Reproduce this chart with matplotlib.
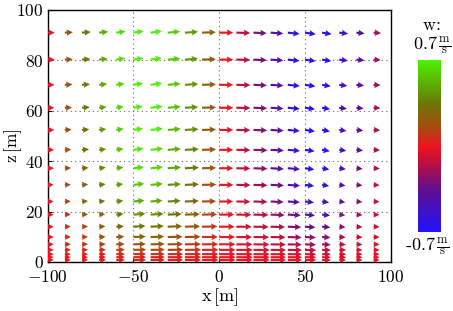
import numpy as np
import matplotlib
matplotlib.use("Agg")
import matplotlib.pyplot as plt
from matplotlib.colors import LinearSegmentedColormap, Normalize
from matplotlib.ticker import FuncFormatter

plt.rcParams['mathtext.fontset'] = 'cm'
plt.rcParams['font.family'] = ['DejaVu Serif']

# ---- data ----
x_pos = [-100, -90, -80, -70, -60, -50, -40, -30, -20, -10,
         0, 10, 20, 30, 40, 50, 60, 70, 80, 90]
z_pos = [0.8, 1.9, 3.1, 4.8, 7.0, 9.9, 14.0, 18.8, 24.0, 30.6,
         37.2, 44.5, 52.4, 61.2, 70.3, 80.3, 91.0]

# horizontal velocity u [m/s], one row per z level (bottom -> top)
u_rows = [
    [3.0, 3.0, 3.0, 3.4, 4.3, 6.3, 7.1, 7.7, 8.1, 8.2, 8.2, 8.2, 8.1, 7.7, 7.1, 5.6, 4.4, 3.4, 3.0, 3.0],
    [3.0, 3.0, 3.0, 3.4, 4.3, 6.3, 7.1, 7.7, 8.1, 8.2, 8.2, 8.2, 8.1, 7.7, 7.1, 5.6, 4.4, 3.4, 3.0, 3.0],
    [3.0, 3.0, 3.0, 3.4, 4.3, 6.3, 7.1, 7.7, 8.1, 8.2, 8.2, 8.2, 8.1, 7.7, 7.1, 5.6, 4.4, 3.4, 3.0, 3.0],
    [3.0, 3.0, 3.0, 3.4, 4.3, 6.3, 7.1, 7.7, 8.1, 8.2, 8.2, 8.2, 8.1, 7.7, 7.1, 5.6, 4.4, 3.4, 3.0, 3.0],
    [3.0, 3.0, 3.0, 3.3, 4.2, 6.2, 7.0, 7.6, 8.0, 8.1, 8.1, 8.1, 8.0, 7.6, 7.0, 5.5, 4.3, 3.3, 3.0, 3.0],
    [3.0, 3.0, 3.0, 3.2, 4.0, 6.1, 6.8, 7.4, 7.8, 7.9, 7.9, 7.9, 7.8, 7.4, 6.9, 5.4, 4.2, 3.2, 3.0, 3.0],
    [3.0, 3.0, 3.0, 3.1, 3.8, 6.0, 6.6, 7.2, 7.6, 7.7, 7.7, 7.7, 7.6, 7.2, 6.7, 5.2, 4.1, 3.1, 3.0, 3.0],
    [3.0, 3.0, 3.0, 3.0, 3.6, 6.0, 6.5, 7.0, 7.5, 7.5, 7.5, 7.5, 7.5, 7.0, 6.5, 5.0, 4.0, 3.0, 3.0, 3.0],
    [3.0, 3.0, 3.0, 3.0, 3.5, 5.5, 6.0, 6.5, 7.0, 7.0, 7.0, 7.0, 7.0, 6.5, 6.0, 4.5, 3.5, 3.0, 3.0, 3.0],
    [3.0, 3.0, 3.1, 3.2, 3.5, 5.4, 6.1, 6.6, 7.0, 7.1, 7.1, 7.1, 7.0, 6.6, 6.1, 4.6, 3.5, 3.1, 3.0, 3.0],
    [3.1, 3.1, 3.3, 3.3, 3.5, 5.2, 6.2, 6.6, 7.0, 7.0, 7.0, 7.0, 7.0, 6.6, 6.1, 4.7, 3.6, 3.3, 3.1, 3.1],
    [3.2, 3.2, 3.5, 3.5, 3.6, 5.0, 6.3, 6.6, 7.0, 7.0, 7.0, 7.0, 7.0, 6.6, 6.1, 4.8, 3.8, 3.5, 3.3, 3.2],
    [3.3, 3.4, 3.6, 3.6, 3.7, 4.8, 6.1, 6.5, 6.8, 7.0, 7.0, 7.0, 6.8, 6.5, 6.0, 5.0, 3.9, 3.6, 3.4, 3.3],
    [3.3, 3.6, 3.9, 3.7, 3.7, 4.6, 6.0, 6.5, 6.6, 7.0, 7.0, 7.0, 6.8, 6.4, 6.0, 5.0, 4.0, 3.8, 3.6, 3.4],
    [3.4, 3.8, 4.0, 4.0, 4.1, 4.8, 5.8, 6.4, 6.7, 7.0, 7.0, 7.0, 6.7, 6.4, 6.0, 5.2, 4.3, 4.0, 3.8, 3.5],
    [3.5, 3.9, 4.2, 4.3, 4.5, 5.0, 5.6, 6.2, 6.6, 6.9, 7.0, 6.9, 6.6, 6.3, 5.9, 5.3, 4.6, 4.3, 4.0, 3.6],
    [3.5, 4.0, 4.4, 4.5, 4.6, 5.0, 5.6, 6.2, 6.6, 6.9, 7.0, 6.9, 6.6, 6.3, 5.9, 5.4, 4.7, 4.4, 4.1, 3.7],
]

# vertical velocity w: value near the top per column, and factor per z level
w_top = [0.0, 0.2, 0.35, 0.5, 0.65, 0.8, 0.78, 0.6, 0.45, 0.25,
         0.0, -0.15, -0.3, -0.45, -0.62, -0.8, -0.78, -0.55, -0.4, -0.2]
w_factor = [0.03, 0.06, 0.1, 0.17, 0.24, 0.32, 0.43, 0.53, 0.63, 0.72,
            0.8, 0.86, 0.9, 0.93, 0.96, 0.98, 1.0]

w_lim = 0.7
x_ticks = [-100, -50, 0, 50, 100]
z_ticks = [0, 20, 40, 60, 80, 100]

# ---- figure ----
fig = plt.figure(figsize=(4.53, 3.11), dpi=100)
ax = fig.add_axes([0.1053, 0.1576, 0.7572, 0.8103])

X, Z = np.meshgrid(x_pos, z_pos)
U = np.array(u_rows)
W = np.outer(w_factor, w_top)

cmap = LinearSegmentedColormap.from_list('wave', [
    (0.00, (0.13, 0.07, 0.98)),
    (0.25, (0.38, 0.06, 0.56)),
    (0.40, (0.75, 0.06, 0.25)),
    (0.50, (0.93, 0.08, 0.13)),
    (0.60, (0.68, 0.28, 0.07)),
    (0.75, (0.42, 0.47, 0.02)),
    (1.00, (0.30, 0.95, 0.00)),
])
norm = Normalize(-w_lim, w_lim)

ax.quiver(X, Z, U, W, np.clip(W, -w_lim, w_lim), cmap=cmap, norm=norm,
          angles='uv', scale_units='width', scale=343 / 2.0,
          pivot='tail', width=0.0062, headwidth=3.0, headlength=3.0,
          headaxislength=2.7, zorder=3)

ax.set_xlim(-100, 100)
ax.set_ylim(0, 100)
ax.set_xticks(x_ticks)
ax.set_yticks(z_ticks)
fmt = FuncFormatter(lambda v, p: r'$%d$' % v)
ax.xaxis.set_major_formatter(fmt)
ax.yaxis.set_major_formatter(fmt)
ax.tick_params(direction='in', length=3, labelsize=12.5, top=False, right=False, pad=3)
ax.tick_params(axis='x', pad=5)
ax.grid(True, linestyle=(0, (1, 3)), color='0.4', linewidth=0.8)
ax.set_axisbelow(True)
for s in ax.spines.values():
    s.set_linewidth(1.0)

ax.set_xlabel(r'$\mathrm{x\,[m]}$', fontsize=13, labelpad=0)
ax.set_ylabel(r'$\mathrm{z\,[m]}$', fontsize=12.5)
ax.yaxis.set_label_coords(-0.07, 0.46)

# colorbar
cax = fig.add_axes([0.9227, 0.254, 0.0486, 0.553])
grad = np.linspace(-w_lim, w_lim, 256).reshape(-1, 1)
cax.imshow(grad, aspect='auto', origin='lower', cmap=cmap, norm=norm,
           extent=[0, 1, -w_lim, w_lim])
cax.set_xticks([])
cax.set_yticks([])
for s in cax.spines.values():
    s.set_visible(False)

fig.text(0.953, 0.92, r'$\mathrm{w\!:}$', ha='center', va='center', fontsize=13)
fig.text(0.953, 0.855, r'$0.7\,\frac{\mathrm{m}}{\mathrm{s}}$', ha='center', va='center', fontsize=13)
fig.text(0.943, 0.21, r'$\text{-}0.7\,\frac{\mathrm{m}}{\mathrm{s}}$', ha='center', va='center', fontsize=13)

fig.savefig('out.png', dpi=100)
